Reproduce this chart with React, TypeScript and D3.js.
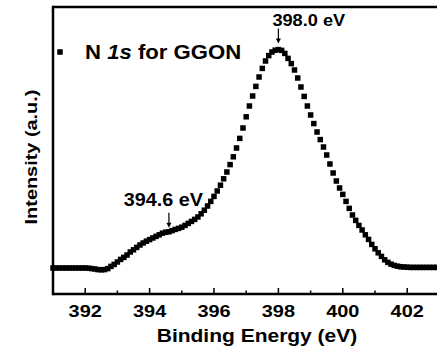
import * as d3 from 'd3';
import { useEffect, useRef } from 'react';

// N 1s spectrum, one point every 0.1 eV
const energies = [
    391.0, 391.1, 391.2, 391.3, 391.4, 391.5, 391.6, 391.7, 391.8, 391.9,
    392.0, 392.1, 392.2, 392.3, 392.4, 392.5, 392.6, 392.7, 392.8, 392.9,
    393.0, 393.1, 393.2, 393.3, 393.4, 393.5, 393.6, 393.7, 393.8, 393.9,
    394.0, 394.1, 394.2, 394.3, 394.4, 394.5, 394.6, 394.7, 394.8, 394.9,
    395.0, 395.1, 395.2, 395.3, 395.4, 395.5, 395.6, 395.7, 395.8, 395.9,
    396.0, 396.1, 396.2, 396.3, 396.4, 396.5, 396.6, 396.7, 396.8, 396.9,
    397.0, 397.1, 397.2, 397.3, 397.4, 397.5, 397.6, 397.7, 397.8, 397.9,
    398.0, 398.1, 398.2, 398.3, 398.4, 398.5, 398.6, 398.7, 398.8, 398.9,
    399.0, 399.1, 399.2, 399.3, 399.4, 399.5, 399.6, 399.7, 399.8, 399.9,
    400.0, 400.1, 400.2, 400.3, 400.4, 400.5, 400.6, 400.7, 400.8, 400.9,
    401.0, 401.1, 401.2, 401.3, 401.4, 401.5, 401.6, 401.7, 401.8, 401.9,
    402.0, 402.1, 402.2, 402.3, 402.4, 402.5, 402.6, 402.7, 402.8, 402.9,
    403.0
];

const intensities = [
    0, 0, 0, 0, 0, 0, 0, 0, 0, 0,
    0, -1, -3, -5, -8, -9, -8, -3, 8, 18,
    30, 43, 53, 65, 80, 91, 103, 115, 125, 134,
    142, 150, 158, 166, 174, 179, 181, 187, 193, 198,
    204, 213, 223, 233, 243, 255, 271, 289, 310, 333,
    358, 385, 414, 446, 480, 517, 556, 600, 648, 700,
    756, 810, 860, 908, 955, 998, 1035, 1062, 1080, 1089,
    1092, 1088, 1073, 1048, 1022, 990, 950, 905, 858, 810,
    765, 722, 680, 642, 605, 565, 520, 475, 435, 400,
    368, 333, 298, 265, 238, 213, 190, 166, 143, 118,
    96, 76, 58, 41, 28, 19, 13, 9, 6, 5,
    4, 3, 3, 3, 3, 3, 3, 3, 3, 3,
    3
];

const majorTicks = [392, 394, 396, 398, 400, 402];
const minorTicks = [391, 393, 395, 397, 399, 401, 403];

const peakEnergies = [398.0, 394.6];
const peakLabels = ['398.0 eV', '394.6 eV'];

interface Point {
    energy: number;
    value: number;
}

const font = '"Liberation Sans", Arial, sans-serif';

// bold text, slightly widened like the original's font
const addText = (
    parent: d3.Selection<any, unknown, null, undefined>,
    x: number,
    y: number,
    txt: string,
    size: number,
    stretch: number,
    anchor = 'start',
    rotate = 0
) =>
    parent
        .append('text')
        .attr('transform', `translate(${x},${y}) rotate(${rotate}) scale(${stretch},1)`)
        .attr('text-anchor', anchor)
        .style('font-family', font)
        .style('font-weight', 'bold')
        .style('font-size', `${size}px`)
        .text(txt);

const App = () => {
    const svgRef = useRef<SVGSVGElement>(null);

    useEffect(() => {
        const svg = d3.select(svgRef.current);
        svg.selectAll('*').remove();

        const width = 437;
        const height = 351;
        const left = 53;
        const top = 7;
        const bottom = 294;

        const data: Point[] = energies.map((e, i) => ({ energy: e, value: intensities[i] }));

        // Scales
        const x = d3.scaleLinear().domain([391, 403]).range([left, 439.4]);
        const y = d3.scaleLinear().domain([-130, 1305]).range([bottom, top]);

        svg.append('rect')
            .attr('width', width)
            .attr('height', height)
            .attr('fill', '#fff');

        // Data points (squares)
        const size = 5.5;
        svg.append('g')
            .selectAll('rect')
            .data(data)
            .enter()
            .append('rect')
            .attr('x', (d) => x(d.energy) - size / 2)
            .attr('y', (d) => y(d.value) - size / 2)
            .attr('width', size)
            .attr('height', size)
            .attr('fill', '#000');

        // Frame
        const frame = svg.append('g').attr('stroke', '#000').attr('stroke-width', 2.5);
        frame.append('line').attr('x1', left).attr('x2', width).attr('y1', top).attr('y2', top);
        frame.append('line').attr('x1', left).attr('x2', width).attr('y1', bottom).attr('y2', bottom);
        frame.append('line').attr('x1', left).attr('x2', left).attr('y1', top - 1.25).attr('y2', bottom + 1.25);

        // Ticks (inward)
        const ticks = svg.append('g').attr('stroke', '#000').attr('stroke-width', 1.5);
        ticks.selectAll('.major')
            .data(majorTicks)
            .enter()
            .append('line')
            .attr('x1', (d) => x(d))
            .attr('x2', (d) => x(d))
            .attr('y1', bottom)
            .attr('y2', bottom - 6);
        ticks.selectAll('.minor')
            .data(minorTicks)
            .enter()
            .append('line')
            .attr('x1', (d) => x(d))
            .attr('x2', (d) => x(d))
            .attr('y1', bottom)
            .attr('y2', bottom - 3.5);

        const tickLabels = svg.append('g');
        majorTicks.forEach((t) => addText(tickLabels, x(t), 317, String(t), 17, 1.17, 'middle'));

        // Axis labels
        addText(svg, 257, 342, 'Binding Energy (eV)', 17.5, 1.2, 'middle');
        addText(svg, 37, 157, 'Intensity (a.u.)', 17, 1.17, 'middle', -90);

        // Legend
        svg.append('rect')
            .attr('x', 60 - size / 2)
            .attr('y', 52 - size / 2)
            .attr('width', size)
            .attr('height', size)
            .attr('fill', '#000');

        const legend = svg.append('text')
            .attr('transform', 'translate(85,58.5) scale(1.08,1)')
            .style('font-family', font)
            .style('font-weight', 'bold')
            .style('font-size', '20.5px');
        legend.append('tspan').text('N ');
        legend.append('tspan').style('font-style', 'italic').text('1s');
        legend.append('tspan').text(' for GGON');

        // Peak annotations
        const arrowLen = 15;
        peakEnergies.forEach((e, i) => {
            const idx = energies.indexOf(e);
            const px = x(e);
            const tip = y(intensities[idx]) - (i === 0 ? 6 : 4);
            const g = svg.append('g');
            g.append('line')
                .attr('x1', px)
                .attr('x2', px)
                .attr('y1', tip - arrowLen)
                .attr('y2', tip - 2)
                .attr('stroke', '#000')
                .attr('stroke-width', 1.2);
            g.append('path')
                .attr('d', `M${px - 2.5},${tip - 5}L${px + 2.5},${tip - 5}L${px},${tip}Z`)
                .attr('fill', '#000');
            if (i === 0) {
                addText(g, px - 6, tip - arrowLen - 3, peakLabels[i], 17, 1.07);
            } else {
                addText(g, px + 34, tip - arrowLen - 7, peakLabels[i], 18, 1.1, 'end');
            }
        });
    }, []);

    return (
        <svg
            ref={svgRef}
            width={437}
            height={351}
            style={{ position: 'absolute', left: 0, top: 0, display: 'block' }}
        ></svg>
    );
};

export default App;
